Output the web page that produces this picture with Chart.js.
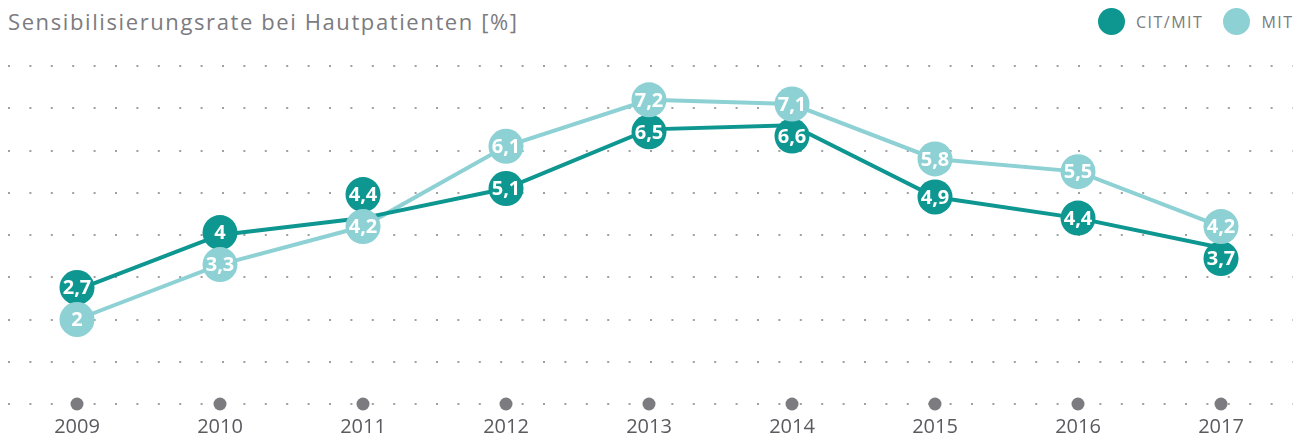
<!DOCTYPE html>
<html>
<head>
<meta charset="utf-8">
<script src="https://cdn.jsdelivr.net/npm/chart.js@4.4.1/dist/chart.umd.min.js"></script>
<style>
  html, body { margin: 0; padding: 0; background: #fff; }
  #wrap { position: relative; width: 1305px; height: 437px; overflow: hidden; }
  #title { position: absolute; left: 8px; top: 6px; font-family: "Open Sans", sans-serif; font-size: 22px; letter-spacing: 1.6px; color: #7b7b80; white-space: nowrap; }
  #legend { position: absolute; left: 1098px; top: 8px; display: flex; align-items: center; font-family: "Open Sans", sans-serif; font-size: 16px; letter-spacing: 1.5px; color: #7b7b80; }
  #legend .item { display: flex; align-items: center; margin-right: 20px; }
  #legend .dot { width: 27px; height: 27px; border-radius: 50%; margin-right: 11px; }
  canvas { position: absolute; left: 0; top: 0; }
</style>
</head>
<body>
<div id="wrap">
  <div id="title">Sensibilisierungsrate bei Hautpatienten [%]</div>
  <div id="legend"></div>
  <canvas id="chart" width="1305" height="437"></canvas>
</div>
<script>
// data
var years = ['2009', '2010', '2011', '2012', '2013', '2014', '2015', '2016', '2017'];
var citMit = [2.7, 4, 4.4, 5.1, 6.5, 6.6, 4.9, 4.4, 3.7];
var mit = [2, 3.3, 4.2, 6.1, 7.2, 7.1, 5.8, 5.5, 4.2];
var seriesNames = ['CIT/MIT', 'MIT'];
var seriesColors = ['#0e9691', '#8dd1d4'];

Chart.defaults.font.family = '"Open Sans", sans-serif';

// legend in html
var legend = document.getElementById('legend');
seriesNames.forEach(function (name, i) {
    var item = document.createElement('div');
    item.className = 'item';
    item.innerHTML = '<span class="dot" style="background:' + seriesColors[i] + '"></span>' + name;
    legend.appendChild(item);
});

function fmt(v) {
    return String(v).replace('.', ',');
}

// year dots on the baseline + value bubbles
var bubbles = {
    id: 'bubbles',
    afterDatasetsDraw: function (chart) {
        var ctx = chart.ctx;
        var xs = chart.scales.x, ys = chart.scales.y;
        ctx.save();
        ctx.fillStyle = '#7b7b80';
        years.forEach(function (yr, i) {
            ctx.beginPath();
            ctx.arc(xs.getPixelForValue(i), ys.getPixelForValue(0), 6.5, 0, Math.PI * 2);
            ctx.fill();
        });

        var a = chart.getDatasetMeta(0).data;
        var b = chart.getDatasetMeta(1).data;
        var r = 17.5, minGap = 32;
        ctx.textAlign = 'center';
        ctx.textBaseline = 'middle';
        ctx.font = 'bold 20px "Open Sans", sans-serif';
        years.forEach(function (yr, i) {
            var ya = a[i].y, yb = b[i].y;
            // push the dark bubble away when the two overlap
            if (Math.abs(ya - yb) < minGap) {
                ya = ya < yb ? yb - minGap : yb + minGap;
            }
            var pts = [[a[i].x, ya, citMit[i], seriesColors[0]], [b[i].x, yb, mit[i], seriesColors[1]]];
            pts.forEach(function (p) {
                ctx.fillStyle = p[3];
                ctx.beginPath();
                ctx.arc(p[0], p[1], r, 0, Math.PI * 2);
                ctx.fill();
                ctx.fillStyle = '#fff';
                ctx.fillText(fmt(p[2]), p[0], p[1] + 1);
            });
        });
        ctx.restore();
    }
};

var ctx = document.getElementById('chart').getContext('2d');
var chart = new Chart(ctx, {
    type: 'line',
    data: {
        labels: years,
        datasets: [{
            label: seriesNames[0],
            data: citMit,
            borderColor: seriesColors[0],
            backgroundColor: seriesColors[0],
            borderWidth: 4,
            pointRadius: 0,
            tension: 0
        }, {
            label: seriesNames[1],
            data: mit,
            borderColor: seriesColors[1],
            backgroundColor: seriesColors[1],
            borderWidth: 4,
            pointRadius: 0,
            tension: 0
        }]
    },
    options: {
        responsive: false,
        animation: false,
        layout: {
            padding: { top: 66, bottom: 0, left: 5.5, right: 12.5 }
        },
        plugins: {
            legend: { display: false },
            tooltip: { enabled: false }
        },
        scales: {
            x: {
                offset: true,
                grid: { display: false, drawTicks: false },
                border: { display: false },
                afterFit: function (scale) { scale.height = 33; },
                ticks: {
                    color: '#5a5a5f',
                    padding: 13,
                    maxRotation: 0,
                    font: { size: 20, lineHeight: 1 }
                }
            },
            y: {
                min: 0,
                max: 8,
                ticks: { display: false, stepSize: 1 },
                border: { display: false, dash: [2, 19.4], dashOffset: 19.4 },
                grid: {
                    color: '#a0a0a0',
                    lineWidth: 2,
                    drawTicks: false
                }
            }
        }
    },
    plugins: [bubbles]
});
</script>
</body>
</html>
